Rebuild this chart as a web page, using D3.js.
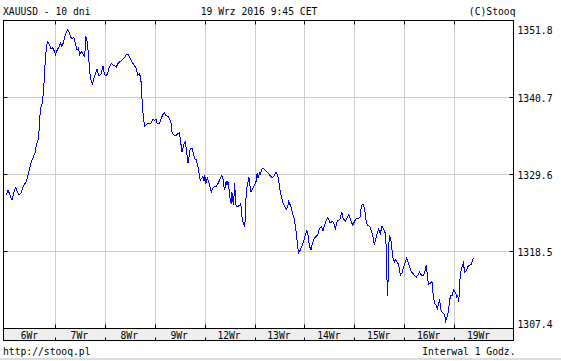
<!DOCTYPE html>
<html>
<head>
<meta charset="utf-8">
<script src="https://cdn.jsdelivr.net/npm/d3@7"></script>
<style>
body { margin: 0; background: #fff; }
text { font-family: "DejaVu Sans Mono", monospace; font-size: 9.7px; fill: #000; }
</style>
</head>
<body>
<div id="chart"></div>
<script>
//XAUUSD 10 dni - hourly line

var w = 561;
var h = 361;

//data -------------------------------------------------------------
var dayLabels = ["6Wr","7Wr","8Wr","9Wr","12Wr","13Wr","14Wr","15Wr","16Wr","19Wr"];
var priceTicks = [1307.4, 1318.5, 1329.6, 1340.7, 1351.8];

//hours since start of 6Wr
var hours = [0.4,1.2,2.0,3.1,4.1,4.9,5.5,6.5,7.6,8.7,10.0,10.8,11.6,12.4,13.2,14.3,14.8,15.6,16.1,16.4,
17.2,17.7,18.4,18.8,19.3,20.1,20.8,21.4,22.0,22.8,23.3,24.0,24.8,25.7,26.4,27.0,27.7,28.3,28.9,29.9,
30.5,31.3,32.1,32.9,33.8,34.4,35.0,35.7,36.5,37.3,38.1,38.6,39.2,39.8,40.5,41.1,41.8,43.2,44.0,44.8,
45.9,46.9,47.5,48.3,49.1,49.9,50.9,51.7,52.5,53.3,54.1,55.2,56.4,57.3,58.4,59.2,60.0,60.8,62.0,62.9,
63.6,64.4,64.9,65.3,65.7,66.1,66.6,66.9,68.1,68.9,70.0,70.9,71.7,72.4,73.0,74.0,74.8,75.6,76.4,77.2,
78.2,79.0,79.6,80.1,80.9,82.0,83.0,83.6,84.1,84.6,84.9,85.7,86.5,87.3,87.8,88.4,88.9,89.7,90.5,91.0,
91.8,92.6,93.2,93.7,94.5,95.0,95.5,95.8,96.4,97.1,97.7,98.5,99.0,99.6,100.4,101.4,102.2,103.0,103.8,104.5,
104.9,105.4,106.1,106.5,107.0,107.7,108.1,108.6,108.9,109.4,109.7,110.2,110.5,110.9,111.5,112.5,113.0,113.4,113.8,114.4,
114.9,115.4,115.8,116.5,117.0,117.6,118.1,118.9,119.8,120.5,121.0,121.5,122.3,122.6,123.1,123.7,124.7,125.5,126.3,127.4,
128.2,129.0,130.1,130.9,131.4,132.0,132.7,133.5,134.3,135.1,135.7,136.2,136.8,137.5,138.1,138.8,139.4,140.1,140.4,141.0,
141.8,142.6,143.4,144.2,145.0,145.5,146.1,146.9,147.4,148.2,149.0,150.2,151.0,151.9,152.7,153.5,154.2,155.1,156.1,157.0,
157.8,158.6,159.6,160.3,161.1,161.7,162.3,163.5,164.4,165.1,166.0,167.0,167.8,168.7,169.9,170.5,171.0,171.5,172.1,172.8,
173.4,174.0,174.7,175.3,176.0,176.8,177.4,178.2,178.8,179.5,180.3,181.1,181.9,182.7,183.2,183.5,183.8,184.0,184.3,184.6,
185.3,185.9,186.4,187.0,187.5,188.3,189.1,189.9,190.7,191.5,192.3,192.9,193.6,194.4,195.2,196.0,196.8,197.6,198.4,199.1,
200.0,201.1,201.9,202.4,203.1,203.5,204.3,205.1,205.8,206.4,207.1,207.7,208.4,208.8,209.3,210.0,210.6,211.2,211.7,212.2,
212.8,213.3,214.0,214.8,215.6,216.4,217.0,217.5,218.0,218.5,219.0,219.6,220.2,220.9,221.7,222.3,223.1,223.9,224.4,225.0];

var prices = [1326.6,1327.3,1326.8,1325.9,1327.1,1327.7,1327.3,1326.6,1327.0,1328.0,1328.6,1329.5,1330.4,1331.4,1332.0,1332.8,1333.8,1334.5,1335.7,1337.6,
1339.7,1339.8,1342.0,1344.4,1346.8,1348.8,1348.5,1348.1,1347.7,1347.9,1347.5,1346.9,1347.5,1348.0,1348.6,1348.1,1348.5,1349.2,1349.9,1350.5,
1350.2,1349.4,1349.2,1349.4,1348.2,1347.5,1347.8,1346.9,1347.3,1347.0,1346.5,1349.6,1348.9,1347.3,1344.4,1343.2,1342.7,1344.1,1344.8,1343.9,
1344.0,1345.3,1344.1,1343.8,1344.1,1345.1,1345.6,1345.4,1345.3,1345.1,1345.6,1345.9,1346.2,1346.5,1347.0,1346.8,1346.3,1345.8,1345.3,1344.9,
1343.9,1344.1,1343.7,1342.7,1340.3,1338.6,1337.2,1336.6,1336.9,1336.9,1337.0,1337.6,1337.4,1337.6,1336.9,1336.9,1337.6,1338.2,1338.5,1338.1,
1338.0,1337.6,1337.1,1335.7,1335.3,1335.2,1335.5,1335.6,1334.8,1333.4,1332.8,1333.9,1334.3,1332.4,1331.2,1332.4,1333.4,1333.4,1332.4,1331.9,
1331.7,1330.7,1329.5,1328.8,1329.1,1329.3,1328.6,1329.5,1328.3,1329.1,1328.6,1327.6,1327.1,1327.5,1327.9,1327.9,1328.3,1328.8,1329.4,1329.3,
1328.1,1327.4,1328.6,1328.1,1328.6,1327.1,1325.9,1325.4,1327.1,1325.7,1325.2,1328.3,1326.9,1325.0,1325.0,1325.1,1325.3,1325.0,1323.3,1322.6,
1322.1,1323.3,1327.4,1328.3,1329.3,1327.9,1327.1,1327.6,1328.1,1328.6,1329.8,1329.1,1329.8,1329.5,1330.3,1330.5,1330.3,1330.0,1329.8,1329.4,
1329.1,1329.3,1329.9,1329.5,1328.7,1327.4,1326.4,1325.4,1325.0,1324.6,1325.0,1325.7,1325.3,1324.7,1324.0,1323.3,1322.1,1320.6,1319.4,1318.3,
1318.7,1319.3,1319.9,1320.9,1321.5,1320.9,1319.4,1318.7,1319.4,1320.2,1320.6,1320.9,1321.8,1322.1,1321.5,1322.3,1323.0,1323.4,1322.6,1322.8,
1322.7,1321.8,1322.9,1323.0,1323.3,1324.2,1323.3,1322.9,1323.4,1323.8,1323.0,1322.3,1322.8,1323.3,1323.3,1323.5,1324.7,1325.3,1325.3,1324.5,
1323.0,1322.3,1322.2,1322.1,1321.4,1320.6,1319.4,1320.4,1321.1,1321.7,1321.1,1322.2,1321.7,1321.1,1318.7,1314.4,1312.1,1314.4,1318.7,1320.9,
1320.3,1318.7,1317.5,1317.0,1317.3,1317.0,1316.6,1315.1,1315.4,1316.3,1317.0,1317.5,1317.0,1316.3,1315.6,1315.3,1315.0,1314.8,1315.1,1315.5,
1315.1,1315.1,1315.8,1316.6,1314.4,1313.8,1313.9,1314.2,1312.0,1311.0,1310.8,1310.3,1311.0,1311.6,1310.1,1309.8,1309.6,1309.3,1308.5,1308.9,
1309.6,1310.6,1312.2,1312.2,1313.0,1312.6,1312.0,1312.2,1311.3,1314.2,1315.6,1316.3,1316.8,1315.5,1315.8,1316.3,1316.5,1316.6,1317.0,1317.5];

//layout -----------------------------------------------------------
//(no "top" as a name: window.top is read-only)
var plotL = 3.5, plotR = 513.5, plotT = 20.5, plotB = 328.5;
var bandH = 12;
var tickLen = 4;

var svg = d3.select("#chart")
			.append("svg")
			.attr("width", w)
			.attr("height", h);

var x = d3.scaleLinear().domain([0, 240]).range([5.5, 504.5]);
var y = d3.scaleLinear().domain([1307.4, 1351.8]).range([plotB, plotT]);

function crisp(v) { return Math.floor(v) + 0.5; }

var dayBounds = d3.range(1, dayLabels.length).map(function(i) { return i * 24; });
var midTicks = priceTicks.slice(1, -1);

//grid
svg.selectAll("line.vgrid")
   .data(dayBounds)
   .enter()
   .append("line")
   .attr("x1", function(d) { return crisp(x(d)); })
   .attr("x2", function(d) { return crisp(x(d)); })
   .attr("y1", plotT)
   .attr("y2", plotB)
   .attr("stroke", "#cccccc");

svg.selectAll("line.hgrid")
   .data(midTicks)
   .enter()
   .append("line")
   .attr("x1", plotL)
   .attr("x2", plotR)
   .attr("y1", function(d) { return crisp(y(d)); })
   .attr("y2", function(d) { return crisp(y(d)); })
   .attr("stroke", "#cccccc");

//bottom band
svg.append("rect")
   .attr("x", plotL)
   .attr("y", plotB)
   .attr("width", plotR - plotL)
   .attr("height", bandH)
   .attr("fill", "#eeeeee")
   .attr("stroke", "#000");

//frame
svg.append("rect")
   .attr("x", plotL)
   .attr("y", plotT)
   .attr("width", plotR - plotL)
   .attr("height", plotB - plotT)
   .attr("fill", "none")
   .attr("stroke", "#000");

//ticks top / bottom / in band
[[plotT, tickLen], [plotB, -tickLen], [plotB + bandH, -3]].forEach(function(t) {
	svg.selectAll(null)
	   .data(dayBounds)
	   .enter()
	   .append("line")
	   .attr("x1", function(d) { return crisp(x(d)); })
	   .attr("x2", function(d) { return crisp(x(d)); })
	   .attr("y1", t[0])
	   .attr("y2", t[0] + t[1])
	   .attr("stroke", "#000");
});

//ticks left / right
[[plotL, tickLen], [plotR, -tickLen]].forEach(function(t) {
	svg.selectAll(null)
	   .data(midTicks)
	   .enter()
	   .append("line")
	   .attr("x1", t[0])
	   .attr("x2", t[0] + t[1])
	   .attr("y1", function(d) { return crisp(y(d)); })
	   .attr("y2", function(d) { return crisp(y(d)); })
	   .attr("stroke", "#000");
});

//day labels
svg.selectAll("text.day")
   .data(dayLabels)
   .enter()
   .append("text")
   .attr("x", function(d, i) { return x(i * 24 + 12) - 1; })
   .attr("y", plotB + 10)
   .attr("text-anchor", "middle")
   .text(function(d) { return d; });

//price labels, end ones pushed inside
svg.selectAll("text.price")
   .data(priceTicks)
   .enter()
   .append("text")
   .attr("x", plotR + 4)
   .attr("y", function(d, i) {
		var yy = y(d) + 4;
		if (i == 0) yy -= 5;
		if (i == priceTicks.length - 1) yy += 9;
		return yy;
   })
   .text(function(d) { return d.toFixed(1); });

//line
var line = d3.line()
			 .x(function(d) { return x(d[0]); })
			 .y(function(d) { return y(d[1]); });

svg.append("path")
   .datum(d3.zip(hours, prices))
   .attr("d", line)
   .attr("fill", "none")
   .attr("stroke", "#0000ff")
   .attr("stroke-width", 1)
   .attr("shape-rendering", "crispEdges");

//header and footer
svg.append("text").attr("x", 3).attr("y", 15).text("XAUUSD - 10 dni");
svg.append("text").attr("x", 259).attr("y", 15).attr("text-anchor", "middle").text("19 Wrz 2016 9:45 CET");
svg.append("text").attr("x", plotR + 2).attr("y", 15).attr("text-anchor", "end").text("(C)Stooq");
svg.append("text").attr("x", 3).attr("y", 355).text("http://stooq.pl");
svg.append("text").attr("x", plotR + 2).attr("y", 355).attr("text-anchor", "end").text("Interwal 1 Godz.");

svg.append("rect")
   .attr("x", 0)
   .attr("y", 358)
   .attr("width", w)
   .attr("height", 2)
   .attr("fill", "#dddddd");
</script>
</body>
</html>
